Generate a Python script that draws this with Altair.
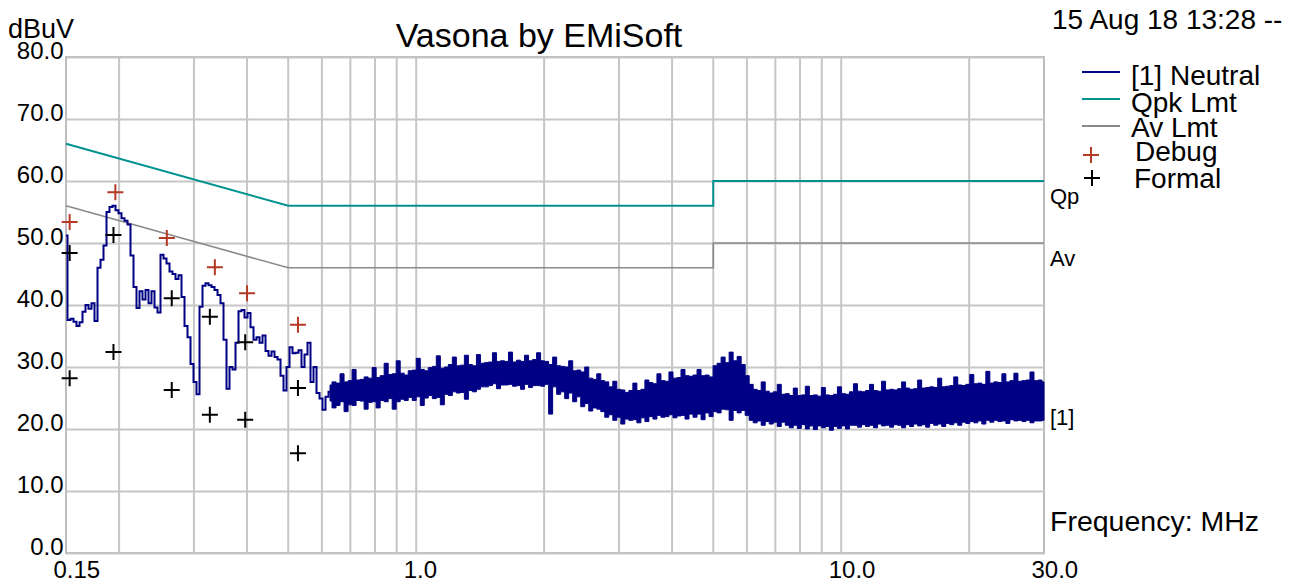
import numpy as np
import pandas as pd
import altair as alt

FONT = "Liberation Sans"

# ---------------- data ----------------
x_tick_values = [0.15, 1.0, 10.0, 30.0]
y_tick_values = [0, 10, 20, 30, 40, 50, 60, 70, 80]
x_grid_freqs = [0.2, 0.3, 0.4, 0.5, 0.6, 0.7, 0.8, 0.9, 1, 2, 3, 4, 5, 6, 7, 8, 9, 10, 20]

qpk_freq = [0.15, 0.5, 5.0, 5.0, 30.0]
qpk_level = [66, 56, 56, 60, 60]
av_freq = [0.15, 0.5, 5.0, 5.0, 30.0]
av_level = [56, 46, 46, 50, 50]

debug_freq = [0.153, 0.196, 0.259, 0.336, 0.400, 0.527]
debug_level = [53.4, 58.2, 50.8, 46.1, 41.9, 36.8]
formal_freq = [0.153, 0.153, 0.194, 0.194, 0.266, 0.266, 0.327, 0.327, 0.396, 0.396, 0.527, 0.527]
formal_level = [48.4, 28.2, 51.3, 32.4, 41.1, 26.3, 38.1, 22.3, 34.0, 21.5, 26.6, 16.1]

# Neutral trace, 0.15 - 0.627 MHz (single level per sweep point)
trace_a_start, trace_a_stop = 0.15, 0.627
trace_a_level = [
    51.2, 37.6, 37.8, 37.3, 36.6, 37.2, 38.9, 40.0, 39.4, 40.3,
    37.4, 46.0, 47.3, 49.6, 55.0, 55.8, 56.0, 55.3, 54.8, 54.0,
    53.6, 53.0, 48.0, 42.9, 39.5, 42.2, 40.9, 42.4, 40.3, 42.2,
    39.6, 38.8, 48.1, 47.5, 46.7, 45.4, 45.0, 44.2, 44.8, 41.3,
    36.6, 34.8, 30.5, 27.6, 25.6, 39.7, 43.1, 43.5, 43.2, 42.9,
    42.4, 41.6, 40.3, 34.4, 26.5, 30.0, 29.6, 33.9, 39.0, 39.2,
    38.0, 38.7, 36.4, 34.4, 34.8, 33.9, 35.1, 32.6, 31.8, 32.5,
    31.6, 31.2, 28.6, 26.2, 30.0, 33.2, 32.2, 32.3, 32.7, 30.0,
    32.0, 33.9, 27.6, 30.0, 25.8, 24.9, 23.1, 25.2, 26.0,
]

# Neutral trace, 0.627 - 30 MHz (noise band: upper / lower readings)
trace_b_start, trace_b_stop = 0.627, 30.0
trace_b_hi = [
    27.1, 27.6, 27.4, 28.9, 27.6, 27.8, 29.6, 27.9, 28.0, 28.4,
    28.2, 29.9, 28.3, 28.6, 30.6, 28.8, 28.9, 31.0, 29.0, 28.7,
    29.4, 29.5, 31.4, 29.6, 29.4, 29.9, 30.1, 31.8, 29.8, 30.0,
    30.4, 31.6, 30.2, 30.3, 31.9, 30.4, 30.2, 32.0, 30.6, 30.7,
    30.8, 32.3, 30.9, 31.0, 30.9, 32.4, 30.8, 31.1, 30.9, 31.9,
    31.0, 31.2, 32.3, 31.0, 30.9, 30.4, 31.6, 30.2, 30.1, 30.0,
    31.0, 29.4, 29.5, 29.2, 30.0, 28.2, 28.0, 28.9, 27.8, 27.6,
    26.8, 27.7, 26.4, 26.3, 25.9, 26.2, 27.4, 26.2, 26.4, 27.9,
    27.5, 27.3, 28.9, 27.8, 27.7, 29.2, 28.2, 28.3, 29.6, 28.6,
    28.5, 28.7, 29.6, 28.6, 28.7, 28.4, 30.2, 30.6, 31.6, 30.7,
    32.4, 31.0, 31.7, 30.4, 28.6, 27.2, 26.4, 26.2, 27.6, 26.1,
    25.8, 26.0, 27.2, 25.6, 25.7, 25.4, 26.6, 25.4, 25.5, 26.9,
    25.4, 25.5, 25.3, 26.7, 25.5, 25.4, 25.6, 26.8, 25.7, 25.6,
    26.0, 27.3, 26.1, 26.0, 26.2, 27.2, 26.2, 26.1, 27.7, 26.3,
    26.4, 26.3, 26.5, 27.6, 26.6, 26.4, 26.5, 27.9, 26.6, 26.7,
    26.8, 26.7, 28.2, 26.8, 26.9, 27.0, 28.4, 27.1, 27.0, 27.2,
    28.8, 27.3, 27.4, 27.2, 29.3, 27.4, 27.6, 27.5, 28.9, 27.6,
    27.8, 29.0, 27.7, 27.8, 27.9, 29.2, 27.8, 27.9, 27.6,
]
trace_b_lo = [
    24.5, 23.4, 23.8, 24.4, 22.8, 23.9, 23.8, 24.6, 24.5, 23.2,
    24.3, 24.4, 23.4, 24.6, 24.4, 24.9, 23.2, 24.4, 24.8, 24.6,
    25.1, 24.6, 25.2, 23.8, 25.0, 25.4, 24.9, 25.1, 23.9, 25.6,
    25.4, 26.0, 25.8, 25.9, 24.8, 26.2, 26.0, 26.4, 26.8, 26.8,
    27.0, 27.3, 26.5, 27.1, 27.1, 27.2, 26.9, 27.0, 26.4, 27.2,
    26.7, 27.0, 27.0, 26.9, 27.2, 22.4, 26.8, 25.6, 26.0, 24.9,
    25.8, 24.4, 25.2, 23.6, 24.1, 22.9, 23.4, 23.2, 22.8, 21.9,
    22.3, 21.4, 21.9, 20.8, 21.6, 21.4, 21.5, 21.0, 21.8, 21.2,
    22.0, 21.6, 22.2, 21.9, 22.0, 22.3, 21.8, 22.1, 22.2, 21.6,
    22.4, 21.9, 22.4, 21.5, 22.6, 22.0, 22.8, 22.6, 23.2, 23.1,
    21.4, 23.0, 22.6, 23.0, 22.2, 21.4, 21.0, 21.3, 20.6, 21.2,
    20.8, 21.1, 20.4, 21.1, 20.6, 20.2, 20.6, 20.1, 20.7, 20.0,
    20.5, 19.9, 20.5, 20.2, 20.4, 19.8, 20.4, 20.1, 20.5, 20.0,
    20.6, 20.6, 20.3, 20.7, 20.4, 20.6, 20.2, 20.8, 20.5, 20.6,
    20.3, 20.7, 20.6, 20.2, 20.7, 20.4, 20.8, 20.5, 20.7, 20.3,
    20.9, 20.6, 20.8, 20.4, 20.9, 20.7, 21.0, 20.6, 21.1, 20.9,
    21.2, 21.0, 21.3, 20.8, 21.4, 21.1, 21.4, 21.2, 21.3, 20.9,
    21.5, 21.3, 21.4, 21.2, 21.4, 21.0, 21.3, 21.3, 21.4,
]

legend_labels = ["[1] Neutral", "Qpk Lmt", "Av Lmt", "Debug", "Formal"]

# ---------------- styles ----------------
NAVY = "#000085"
TEAL = "#009290"
GREY = "#8A8A8A"
RED = "#B23A26"
BLACK = "#000000"
GRID = "#C6C6C6"

W, H = 978, 496

xs = alt.Scale(type="log", domain=[0.15, 30], nice=False)
ys = alt.Scale(domain=[0, 80], nice=False, zero=False)

x_axis = alt.Axis(values=x_tick_values, grid=False, ticks=False, domain=False,
                  labelExpr="datum.value < 1 ? format(datum.value, '.2f') : format(datum.value, '.1f')",
                  labelFont=FONT, labelFontSize=24, labelColor="black",
                  labelAlign="left", labelOffset=-13, labelBaseline="alphabetic",
                  labelPadding=24, labelFlush=False, labelOverlap=False, title=None)
y_axis = alt.Axis(values=y_tick_values, grid=True, gridColor=GRID, gridWidth=2,
                  ticks=False, domain=False,
                  labelExpr="format(datum.value, '.1f')",
                  labelFont=FONT, labelFontSize=24, labelColor="black",
                  labelPadding=3, labelBaseline="middle", labelOffset=-6,
                  labelFlush=False, labelOverlap=False, title=None)

X = alt.X("freq:Q", scale=xs, axis=x_axis)


def Y(field):
    return alt.Y(field, scale=ys, axis=y_axis)


# ---------------- layers ----------------
grid_df = pd.DataFrame({"freq": x_grid_freqs})
grid = alt.Chart(grid_df).mark_rule(color=GRID, strokeWidth=2).encode(
    x=X, y=alt.value(0), y2=alt.value(H))

qpk_df = pd.DataFrame({"freq": qpk_freq, "level": qpk_level, "i": range(len(qpk_freq))})
av_df = pd.DataFrame({"freq": av_freq, "level": av_level, "i": range(len(av_freq))})
qpk = alt.Chart(qpk_df).mark_line(color=TEAL, strokeWidth=2).encode(
    x=X, y=Y("level:Q"), order="i:Q")
av = alt.Chart(av_df).mark_line(color=GREY, strokeWidth=1.6).encode(
    x=X, y=Y("level:Q"), order="i:Q")

a_df = pd.DataFrame({
    "freq": np.geomspace(trace_a_start, trace_a_stop, len(trace_a_level)),
    "level": trace_a_level,
})
trace_a = alt.Chart(a_df).mark_line(color=NAVY, strokeWidth=2, interpolate="step").encode(
    x=X, y=Y("level:Q"))

b_df = pd.DataFrame({
    "freq": np.geomspace(trace_b_start, trace_b_stop, len(trace_b_hi)),
    "lo": trace_b_lo,
    "hi": trace_b_hi,
})
trace_b = alt.Chart(b_df).mark_area(color=NAVY, opacity=1, interpolate="step",
                                    stroke=NAVY, strokeWidth=1).encode(
    x=X, y=Y("lo:Q"), y2="hi:Q")

PLUS = "M-1,0L1,0M0,-1L0,1"
debug_df = pd.DataFrame({"freq": debug_freq, "level": debug_level})
formal_df = pd.DataFrame({"freq": formal_freq, "level": formal_level})
debug = alt.Chart(debug_df).mark_point(shape=PLUS, filled=False, size=256,
                                       strokeWidth=2, color=RED, opacity=1).encode(
    x=X, y=Y("level:Q"))
formal = alt.Chart(formal_df).mark_point(shape=PLUS, filled=False, size=256,
                                         strokeWidth=2, color=BLACK, opacity=1).encode(
    x=X, y=Y("level:Q"))


def text_layer(label, x, y, size, align="left", color="black"):
    df = pd.DataFrame({"t": [label]})
    return alt.Chart(df).mark_text(font=FONT, fontSize=size, align=align,
                                   baseline="alphabetic", color=color).encode(
        x=alt.value(x), y=alt.value(y), text="t:N")


def legend_line(y, color, width):
    df = pd.DataFrame({"k": [0]})
    return alt.Chart(df).mark_rule(color=color, strokeWidth=width).encode(
        x=alt.value(1016), x2=alt.value(1054), y=alt.value(y))


def legend_plus(x, y, color):
    df = pd.DataFrame({"k": [0]})
    return alt.Chart(df).mark_point(shape=PLUS, filled=False, size=256,
                                    strokeWidth=2, color=color, opacity=1).encode(
        x=alt.value(x), y=alt.value(y))


annotations = [
    text_layer("Vasona by EMiSoft", 473, -10, 34, align="center"),
    text_layer("dBuV", -58, -19, 27),
    text_layer("15 Aug 18 13:28 --", 986, -28, 28),
    legend_line(15, NAVY, 2),
    legend_line(42, TEAL, 2),
    legend_line(69, GREY, 2),
    legend_plus(1025, 98, RED),
    legend_plus(1026, 121, BLACK),
    text_layer(legend_labels[0], 1065, 28, 28),
    text_layer(legend_labels[1], 1065, 55, 28),
    text_layer(legend_labels[2], 1065, 80, 28),
    text_layer(legend_labels[3], 1069, 104, 28),
    text_layer(legend_labels[4], 1068, 131, 28),
    text_layer("Qp", 984, 147, 22),
    text_layer("Av", 984, 209, 22),
    text_layer("[1]", 984, 368, 22),
    text_layer("Frequency: MHz", 984, 474, 28.5),
]

chart = alt.layer(grid, av, qpk, trace_b, trace_a, debug, formal, *annotations).properties(
    width=W, height=H,
    padding={"left": 58, "top": 49, "right": 249, "bottom": 28},
    autosize=alt.AutoSizeParams(type="none"),
    background="white",
).configure_view(stroke="#BDBDBD", strokeWidth=2)

chart.save("out.html", embed_options={"renderer": "svg", "actions": False})
